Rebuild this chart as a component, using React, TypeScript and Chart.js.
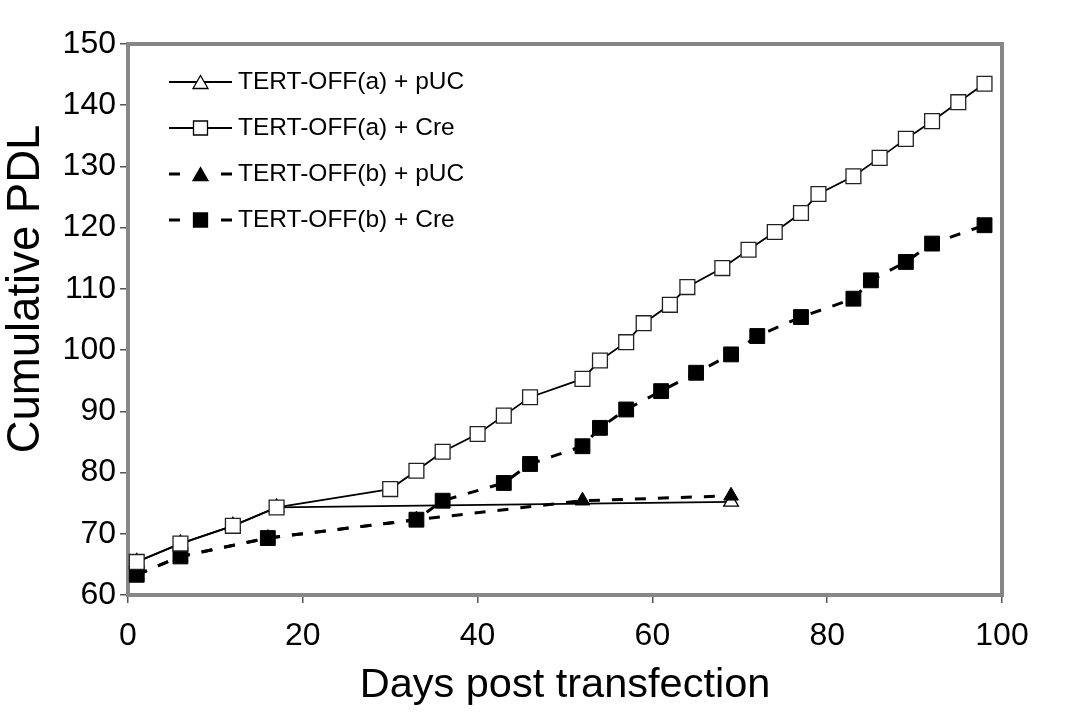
import React, { useEffect, useRef } from "react";
import { Chart, registerables } from "chart.js";

Chart.register(...registerables);

const FONT = "'Liberation Sans', Arial, Helvetica, sans-serif";

// Series: TERT-OFF(a) + pUC (open triangles, solid line)
const aPucDays = [1, 6, 12, 17, 69];
const aPucPdl = [65.4, 68.4, 71.3, 74.3, 75.2];

// Series: TERT-OFF(a) + Cre (open squares, solid line)
const aCreDays = [1, 6, 12, 17, 30, 33, 36, 40, 43, 46, 52, 54, 57, 59, 62, 64, 68, 71, 74, 77, 79, 83, 86, 89, 92, 95, 98];
const aCrePdl = [65.4, 68.4, 71.3, 74.3, 77.3, 80.3, 83.4, 86.3, 89.3, 92.3, 95.3, 98.3, 101.3, 104.4, 107.4, 110.3, 113.4, 116.4, 119.3, 122.4, 125.5, 128.4, 131.4, 134.5, 137.4, 140.5, 143.5];

// Series: TERT-OFF(b) + pUC (filled triangles, dashed line)
const bPucDays = [1, 6, 16, 33, 52, 69];
const bPucPdl = [63.3, 66.3, 69.3, 72.3, 75.4, 76.2];

// Series: TERT-OFF(b) + Cre (filled squares, dashed line)
const bCreDays = [1, 6, 16, 33, 36, 43, 46, 52, 54, 57, 61, 65, 69, 72, 77, 83, 85, 89, 92, 98];
const bCrePdl = [63.3, 66.3, 69.3, 72.3, 75.4, 78.3, 81.4, 84.3, 87.3, 90.3, 93.3, 96.3, 99.3, 102.3, 105.4, 108.4, 111.4, 114.4, 117.4, 120.4];

const seriesLabels = ["TERT-OFF(a) + pUC", "TERT-OFF(a) + Cre", "TERT-OFF(b) + pUC", "TERT-OFF(b) + Cre"];

const xTitle = "Days post transfection";
const yTitle = "Cumulative PDL";

const toPoints = (xs: number[], ys: number[]) => xs.map((x, i) => ({ x, y: ys[i] }));

function drawMarker(ctx: CanvasRenderingContext2D, style: string, filled: boolean, x: number, y: number) {
  ctx.save();
  ctx.setLineDash([]);
  ctx.beginPath();
  if (style === "triangle") {
    ctx.moveTo(x, y - 6.5);
    ctx.lineTo(x + 7.5, y + 6.5);
    ctx.lineTo(x - 7.5, y + 6.5);
    ctx.closePath();
  } else {
    ctx.rect(x - 7, y - 7, 14, 14);
  }
  ctx.fillStyle = filled ? "#000" : "#fff";
  ctx.fill();
  ctx.lineWidth = 1.3;
  ctx.strokeStyle = "#000";
  ctx.stroke();
  ctx.restore();
}

const framePlugin = {
  id: "frame",
  beforeDatasetsDraw(chart: any) {
    const { ctx, chartArea } = chart;
    ctx.save();
    ctx.strokeStyle = "#878787";
    ctx.lineWidth = 4;
    ctx.strokeRect(chartArea.left, chartArea.top, chartArea.right - chartArea.left, chartArea.bottom - chartArea.top);
    ctx.restore();
  },
};

const legendPlugin = {
  id: "innerLegend",
  afterDatasetsDraw(chart: any) {
    const ctx: CanvasRenderingContext2D = chart.ctx;
    const rowsY = [82, 128, 174, 220];
    chart.data.datasets.forEach((ds: any, i: number) => {
      const y = rowsY[i];
      const dashed = Array.isArray(ds.borderDash) && ds.borderDash.length > 0;
      ctx.save();
      ctx.strokeStyle = "#000";
      if (dashed) {
        ctx.lineWidth = 3;
        ctx.beginPath();
        ctx.moveTo(169, y);
        ctx.lineTo(180, y);
        ctx.moveTo(221, y);
        ctx.lineTo(232, y);
        ctx.stroke();
      } else {
        ctx.lineWidth = 1.8;
        ctx.beginPath();
        ctx.moveTo(169, y);
        ctx.lineTo(232, y);
        ctx.stroke();
      }
      ctx.restore();
      drawMarker(ctx, ds.pointStyle, ds.pointBackgroundColor === "#000", 200.5, y);
      ctx.save();
      ctx.font = `24.5px ${FONT}`;
      ctx.fillStyle = "#000";
      ctx.textAlign = "left";
      ctx.textBaseline = "middle";
      ctx.fillText(ds.label, 238, y);
      ctx.restore();
    });
  },
};

const yTitlePlugin = {
  id: "yTitle",
  afterDraw(chart: any) {
    const ctx: CanvasRenderingContext2D = chart.ctx;
    ctx.save();
    ctx.translate(26, 289);
    ctx.rotate(-Math.PI / 2);
    ctx.font = `45.5px ${FONT}`;
    ctx.fillStyle = "#000";
    ctx.textAlign = "center";
    ctx.textBaseline = "middle";
    ctx.fillText(yTitle, 0, 0);
    ctx.restore();
  },
};

export default function App() {
  const ref = useRef<HTMLCanvasElement>(null);

  useEffect(() => {
    if (!ref.current) return;
    const chart = new Chart(ref.current, {
      type: "line",
      data: {
        datasets: [
          {
            label: seriesLabels[0],
            data: toPoints(aPucDays, aPucPdl),
            borderColor: "#000",
            borderWidth: 1.8,
            borderDash: [],
            pointStyle: "triangle",
            pointRadius: 8.5,
            pointBackgroundColor: "#fff",
            pointBorderColor: "#000",
            pointBorderWidth: 1.3,
            order: 3,
            clip: false,
          },
          {
            label: seriesLabels[1],
            data: toPoints(aCreDays, aCrePdl),
            borderColor: "#000",
            borderWidth: 1.8,
            borderDash: [],
            pointStyle: "rect",
            pointRadius: 10.5,
            pointBackgroundColor: "#fff",
            pointBorderColor: "#222",
            pointBorderWidth: 1.3,
            order: 0,
            clip: false,
          },
          {
            label: seriesLabels[2],
            data: toPoints(bPucDays, bPucPdl),
            borderColor: "#000",
            borderWidth: 3,
            borderDash: [11, 12],
            pointStyle: "triangle",
            pointRadius: 8.5,
            pointBackgroundColor: "#000",
            pointBorderColor: "#000",
            pointBorderWidth: 1,
            order: 2,
            clip: false,
          },
          {
            label: seriesLabels[3],
            data: toPoints(bCreDays, bCrePdl),
            borderColor: "#000",
            borderWidth: 3,
            borderDash: [11, 12],
            pointStyle: "rect",
            pointRadius: 10.5,
            pointBackgroundColor: "#000",
            pointBorderColor: "#000",
            pointBorderWidth: 1,
            order: 1,
            clip: false,
          },
        ],
      },
      options: {
        responsive: false,
        animation: false,
        layout: { padding: { left: 0, right: 66, top: 44, bottom: 0 } },
        plugins: {
          legend: { display: false },
          tooltip: { enabled: false },
        },
        scales: {
          x: {
            type: "linear",
            min: 0,
            max: 100,
            ticks: {
              stepSize: 20,
              color: "#000",
              font: { family: FONT, size: 32 },
              padding: 14,
              maxRotation: 0,
            },
            grid: {
              drawOnChartArea: false,
              drawTicks: true,
              tickLength: 8,
              color: "#555",
              lineWidth: 1.5,
            },
            border: { display: false },
            title: {
              display: true,
              text: xTitle,
              color: "#000",
              font: { family: FONT, size: 41.5 },
              padding: { top: 0, bottom: 13 },
            },
            afterFit: (s: any) => {
              s.height = 128;
            },
          },
          y: {
            type: "linear",
            min: 60,
            max: 150,
            ticks: {
              stepSize: 10,
              color: "#000",
              font: { family: FONT, size: 32 },
              padding: 4,
            },
            grid: {
              drawOnChartArea: false,
              drawTicks: true,
              tickLength: 8,
              color: "#555",
              lineWidth: 1.5,
            },
            border: { display: false },
            afterFit: (s: any) => {
              s.width = 128;
            },
          },
        },
      },
      plugins: [framePlugin, legendPlugin, yTitlePlugin],
    });
    return () => chart.destroy();
  }, []);

  return (
    <div style={{ position: "absolute", left: 0, top: 0, width: 1068, height: 723, background: "#fff" }}>
      <canvas ref={ref} width={1068} height={723} style={{ display: "block" }} />
    </div>
  );
}
